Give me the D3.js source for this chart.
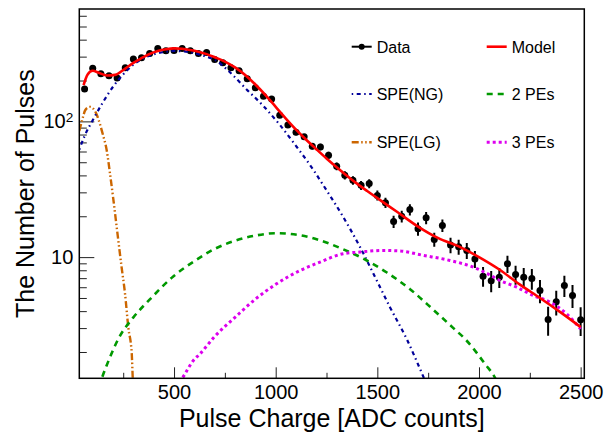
<!DOCTYPE html>
<html><head><meta charset="utf-8">
<script src="https://cdn.jsdelivr.net/npm/d3@7"></script>
<style>body{margin:0;background:#fff}svg{display:block}text{font-family:"Liberation Sans",Arial,Helvetica,sans-serif}</style>
</head><body><svg id="c" width="613" height="432"></svg>
<script>
// ---- data ----
const dataX = [60,100,140,180,220,260,300,340,380,420,460,500,540,580,620,660,700,740,780,820,860,900,940,980,1020,1060,1100,1140,1180,1220,1260,1300,1340,1380,1420,1460,1500,1540,1580,1620,1660,1700,1740,1780,1820,1860,1900,1940,1980,2020,2060,2100,2140,2180,2220,2260,2300,2340,2380,2420,2460,2500];
const dataY = [173,246,224,217,209,248,288,294,317,345,331,333,345,331,317,322,286,270,248,236,206,177,153.5,146,111,94.2,83.2,76.9,65.6,64.8,56.3,46.7,40.1,36.8,33.8,34.8,28.5,25.2,18.3,20,22.4,16.2,19.5,13.5,17.1,12.3,11.9,11.2,9.7,7.24,6.7,7.12,8.94,7.45,7.12,6.96,5.68,3.47,4.69,6.18,5.22,3.45];
const dataErr = [5.9,7.0,6.7,6.6,6.5,7.0,7.6,7.7,8.0,8.3,8.1,8.2,8.3,8.1,8.0,8.0,7.6,7.3,7.0,6.9,6.4,5.9,5.5,5.4,4.7,4.3,4.1,3.9,3.6,3.6,3.4,3.1,2.8,2.7,2.6,2.6,2.4,2.2,1.9,2.0,2.1,1.8,2.0,1.6,1.8,1.6,1.5,1.5,1.4,1.2,1.2,1.2,1.3,1.2,1.2,1.2,1.1,0.83,0.97,1.1,1.0,0.83];

const modelX = [55,75,100,130,170,210,260,300,340,380,420,460,500,540,580,620,660,700,750,800,850,900,950,1000,1050,1100,1150,1200,1250,1300,1350,1400,1450,1500,1600,1700,1800,1900,2000,2100,2200,2300,2400,2500];
const modelY = [185,222,236,228,218,220,245,270,292,314,330,340,345,343,336,326,313,297,276,250,220,187,156,128,105,87,73.3,62.4,53.3,45.9,39.8,34.8,30.7,27.2,21.4,16.8,13.8,12.0,10.0,8.1,6.3,5.0,3.93,3.05];

const ngX = [34,60,100,150,200,250,300,350,400,450,500,550,600,650,700,775,857,939,1021,1103,1185,1239,1330,1415,1497,1562,1644,1710,1760];
const ngY = [62,78,102,138,180,222,262,292,312,325,330,328,318,303,284,230,172,130,94,65,44,33,20,11.85,6.73,4.28,2.5,1.5,1.0];

const lgX = [34,50,62,78,87,103,120,136,150,169,185,201,218,242,259,275,292,297,305];
const lgY = [85,105,120,127,128,124,112,95,80,61,41.3,27,16.6,8.44,5.37,3.04,1.94,1.27,0.9];

const pe2X = [130,144,185,226,300,382,496,603,700,800,900,1000,1120,1218,1333,1440,1547,1661,1775,1874,1931,2030,2080,2100];
const pe2Y = [1.1,1.27,1.83,2.5,3.6,4.9,7.2,9.4,11.5,13.2,14.4,15,14.5,13.3,11.4,9.6,7.7,5.8,4.1,3.0,2.5,1.63,1.28,1.1];

const pe3X = [525,538,595,628,700,800,900,1000,1120,1218,1332,1415,1529,1611,1726,1857,1972,2038,2103,2186,2267,2349,2431,2500];
const pe3Y = [1.2,1.27,1.73,1.94,2.6,3.6,4.9,6.3,7.97,9.19,10.6,10.9,11.2,11.1,10.3,9.45,8.44,7.6,6.73,6.0,5.22,4.66,3.82,2.95];

const xMajor = [500,1000,1500,2000,2500];
const xMinor = [250,750,1250,1750,2250];
const yMajor = [10,100];
const yMinor = [2,3,4,5,6,7,8,9,20,30,40,50,60,70,80,90,200,300,400,500,600];

const legendItems = [
  {label:"Data", type:"data"},
  {label:"Model", type:"model"},
  {label:"SPE(NG)", type:"ng"},
  {label:"2 PEs", type:"pe2"},
  {label:"SPE(LG)", type:"lg"},
  {label:"3 PEs", type:"pe3"}
];

// ---- layout ----
const L=79.3, R=584.3, T=9, B=378.3;
const svg = d3.select("#c");
const x = d3.scaleLinear().domain([34,2518]).range([L,R]);
const y = d3.scaleLog().domain([1.28,673]).range([B,T]);

const styles = {
  model:{stroke:"#ff0000", width:2.6, dash:null},
  ng:{stroke:"#000099", width:2.2, dash:"1.5,3.5,4,3.5"},
  lg:{stroke:"#cc6600", width:2.4, dash:"7,2.5,1.5,2.5,1.5,2.5"},
  pe2:{stroke:"#009900", width:2.6, dash:"6,5"},
  pe3:{stroke:"#dd00ee", width:3, dash:"3,3"}
};

svg.append("defs").append("clipPath").attr("id","clip")
  .append("rect").attr("x",L).attr("y",T).attr("width",R-L).attr("height",B-T);

// axes
const ax = svg.append("g").attr("transform",`translate(0,${B})`);
ax.call(d3.axisBottom(x).tickValues(xMinor).tickSize(-5.5).tickFormat(""));
const axM = svg.append("g").attr("transform",`translate(0,${B})`)
  .call(d3.axisBottom(x).tickValues(xMajor).tickSize(-11).tickPadding(7).tickFormat(d3.format("d")));
const ay = svg.append("g").attr("transform",`translate(${L},0)`)
  .call(d3.axisLeft(y).tickValues(yMinor).tickSize(-7.5).tickFormat(""));
const ayM = svg.append("g").attr("transform",`translate(${L},0)`)
  .call(d3.axisLeft(y).tickValues(yMajor).tickSize(-15).tickPadding(6).tickFormat(d=>"10"));
[ax,axM,ay,ayM].forEach(g=>{
  g.select(".domain").remove();
  g.selectAll(".tick line").attr("stroke","#222").attr("stroke-width",1);
  g.selectAll("text").attr("font-size",20).attr("fill","#000")
    .style("font-family","'Liberation Sans',Arial,sans-serif");
});
ayM.selectAll(".tick text").each(function(d){
  if(d===100){
    d3.select(this).append("tspan").attr("dy","-0.45em").attr("font-size","0.68em").text("2");
  }
});

// data points
const gd = svg.append("g").attr("clip-path","url(#clip)");
gd.selectAll("line.err").data(dataX).enter().append("line")
  .attr("x1",(d)=>x(d)).attr("x2",(d)=>x(d))
  .attr("y1",(d,i)=>y(dataY[i]+dataErr[i])).attr("y2",(d,i)=>y(Math.max(dataY[i]-dataErr[i],1.0)))
  .attr("stroke","#000").attr("stroke-width",2);
gd.selectAll("circle").data(dataX).enter().append("circle")
  .attr("cx",d=>x(d)).attr("cy",(d,i)=>y(dataY[i])).attr("r",3.5).attr("fill","#000");

// curves
const line = d3.line().x(d=>x(d[0])).y(d=>y(d[1])).curve(d3.curveMonotoneX);
const gc = svg.append("g").attr("clip-path","url(#clip)");
function drawCurve(xs, ys, st){
  gc.append("path").datum(xs.map((v,i)=>[v,ys[i]]))
    .attr("d",line).attr("fill","none")
    .attr("stroke",st.stroke).attr("stroke-width",st.width)
    .attr("stroke-dasharray",st.dash);
}
drawCurve(lgX, lgY, styles.lg);
drawCurve(ngX, ngY, styles.ng);
drawCurve(pe2X, pe2Y, styles.pe2);
drawCurve(pe3X, pe3Y, styles.pe3);
drawCurve(modelX, modelY, styles.model);

// frame
svg.append("rect").attr("x",L).attr("y",T).attr("width",R-L).attr("height",B-T)
  .attr("fill","none").attr("stroke","#000").attr("stroke-width",1.5);

// titles
svg.append("text").attr("x",(L+R)/2).attr("y",426.5).attr("text-anchor","middle")
  .attr("font-size",25).text("Pulse Charge [ADC counts]");
svg.append("text").attr("transform",`translate(33.5,${(T+B)/2}) rotate(-90)`)
  .attr("text-anchor","middle").attr("font-size",25).text("The Number of Pulses");

// legend
const lg = svg.append("g");
const colX = [351.7, 486.7], rowY = [46.7, 94, 142.3];
legendItems.forEach((it,i)=>{
  const cx = colX[i%2], cy = rowY[Math.floor(i/2)];
  if(it.type==="data"){
    lg.append("line").attr("x1",cx).attr("x2",cx+20).attr("y1",cy).attr("y2",cy)
      .attr("stroke","#000").attr("stroke-width",2);
    lg.append("circle").attr("cx",cx+10).attr("cy",cy).attr("r",3).attr("fill","#000");
  } else {
    const st = styles[it.type];
    lg.append("line").attr("x1",cx).attr("x2",cx+20).attr("y1",cy).attr("y2",cy)
      .attr("stroke",st.stroke).attr("stroke-width",st.width).attr("stroke-dasharray",st.dash);
  }
  lg.append("text").attr("x",cx+25).attr("y",cy+5.8).attr("font-size",16).text(it.label);
});
</script></body></html>
